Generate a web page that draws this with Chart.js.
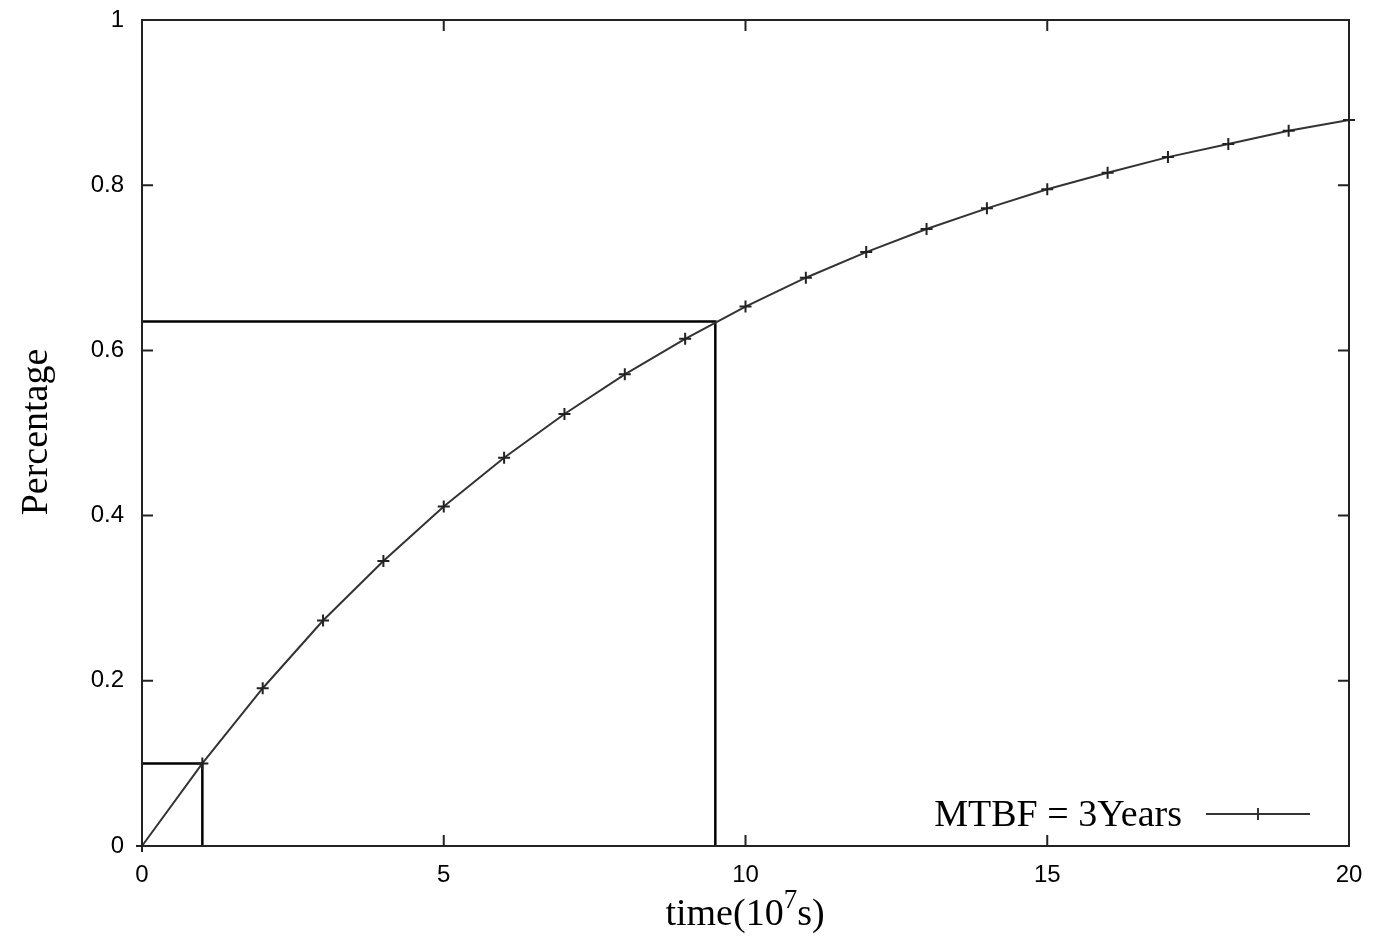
<!DOCTYPE html>
<html>
<head>
<meta charset="utf-8">
<script src="https://cdn.jsdelivr.net/npm/chart.js@4/dist/chart.umd.min.js"></script>
<style>
  html, body { margin: 0; padding: 0; background: #fff; }
  #wrap { width: 1390px; height: 937px; }
</style>
</head>
<body>
<div id="wrap"><canvas id="myChart"></canvas></div>
<script>
// data
const times = [0, 1, 2, 3, 4, 5, 6, 7, 8, 9, 10, 11, 12, 13, 14, 15, 16, 17, 18, 19, 20];
const failed = [0, 0.100, 0.191, 0.273, 0.345, 0.411, 0.470, 0.523, 0.571, 0.614, 0.653, 0.688, 0.719, 0.747, 0.772, 0.795, 0.815, 0.834, 0.850, 0.866, 0.879];
// guide lines
const guideSmallX = [0, 1, 1];
const guideSmallY = [0.1, 0.1, 0];
const guideBigX = [0, 9.5, 9.5];
const guideBigY = [0.635, 0.635, 0];
const xTicks = [0, 5, 10, 15, 20];
const yTicks = [0, 0.2, 0.4, 0.6, 0.8, 1];
const seriesLabel = 'MTBF = 3Years';

const toPts = (xs, ys) => xs.map((x, i) => ({ x: x, y: ys[i] }));
const serif = '"Liberation Serif", "DejaVu Serif", serif';
const sans = '"Liberation Sans", Arial, sans-serif';

// gnuplot style frame: border, inner ticks on 4 sides, titles, legend
const framePlugin = {
  id: 'frame',
  afterDatasetsDraw(chart) {
    const c = chart.ctx;
    const a = chart.chartArea;
    const xs = chart.scales.x, ys = chart.scales.y;
    c.save();
    c.strokeStyle = '#222';
    c.lineWidth = 2;
    c.strokeRect(a.left, a.top, a.right - a.left, a.bottom - a.top);
    c.beginPath();
    xTicks.forEach(v => {
      const px = xs.getPixelForValue(v);
      c.moveTo(px, a.bottom); c.lineTo(px, a.bottom - 11);
      c.moveTo(px, a.top); c.lineTo(px, a.top + 11);
    });
    yTicks.forEach(v => {
      const py = ys.getPixelForValue(v);
      c.moveTo(a.left, py); c.lineTo(a.left + 11, py);
      c.moveTo(a.right, py); c.lineTo(a.right - 11, py);
    });
    c.stroke();

    // legend
    c.fillStyle = '#000';
    c.font = '38px ' + serif;
    c.textAlign = 'right';
    c.textBaseline = 'middle';
    c.fillText(seriesLabel, 1182, 816);
    c.strokeStyle = '#333';
    c.lineWidth = 2;
    c.beginPath();
    c.moveTo(1206, 814); c.lineTo(1310, 814);
    c.moveTo(1258, 808); c.lineTo(1258, 820);
    c.moveTo(1252, 814); c.lineTo(1264, 814);
    c.stroke();

    // x title with superscript
    c.textAlign = 'left';
    c.textBaseline = 'alphabetic';
    const parts = [['time(10', 38, 0], ['7', 27, -17], ['s)', 38, 0]];
    let w = 0;
    parts.forEach(p => { c.font = p[1] + 'px ' + serif; w += c.measureText(p[0]).width; });
    let x0 = 745 - w / 2;
    parts.forEach(p => {
      c.font = p[1] + 'px ' + serif;
      c.fillText(p[0], x0, 925 + p[2]);
      x0 += c.measureText(p[0]).width;
    });

    // y title
    c.translate(47, 432);
    c.rotate(-Math.PI / 2);
    c.textAlign = 'center';
    c.font = '38px ' + serif;
    c.fillText('Percentage', 0, 0);
    c.restore();
  }
};

new Chart(document.getElementById('myChart'), {
  type: 'scatter',
  data: {
    datasets: [
      {
        label: seriesLabel,
        data: toPts(times, failed),
        showLine: true,
        borderColor: '#333',
        borderWidth: 2,
        pointStyle: 'cross',
        pointRadius: 6,
        pointBorderWidth: 2,
        pointBorderColor: '#222',
        clip: 8
      },
      {
        label: 'guide1',
        data: toPts(guideSmallX, guideSmallY),
        showLine: true,
        borderColor: '#000',
        borderWidth: 2.5,
        pointRadius: 0
      },
      {
        label: 'guide2',
        data: toPts(guideBigX, guideBigY),
        showLine: true,
        borderColor: '#000',
        borderWidth: 2.5,
        pointRadius: 0
      }
    ]
  },
  options: {
    responsive: true,
    maintainAspectRatio: false,
    animation: false,
    layout: { padding: { left: 0, right: 41, top: 20, bottom: 0 } },
    plugins: {
      legend: { display: false },
      tooltip: { enabled: false }
    },
    scales: {
      x: {
        type: 'linear',
        min: 0,
        max: 20,
        afterBuildTicks: s => { s.ticks = xTicks.map(v => ({ value: v })); },
        afterFit: s => { s.height = 91; s.paddingLeft = 0; s.paddingRight = 0; },
        grid: { display: false, drawTicks: false },
        border: { display: false },
        ticks: { font: { family: sans, size: 24 }, color: '#000', padding: 15, maxRotation: 0, callback: v => String(v) }
      },
      y: {
        min: 0,
        max: 1,
        afterBuildTicks: s => { s.ticks = yTicks.map(v => ({ value: v })); },
        afterFit: s => { s.width = 142; s.paddingTop = 0; s.paddingBottom = 0; },
        grid: { display: false, drawTicks: false },
        border: { display: false },
        ticks: { font: { family: sans, size: 24 }, color: '#000', padding: 18, callback: v => String(v) }
      }
    }
  },
  plugins: [framePlugin]
});
</script>
</body>
</html>
